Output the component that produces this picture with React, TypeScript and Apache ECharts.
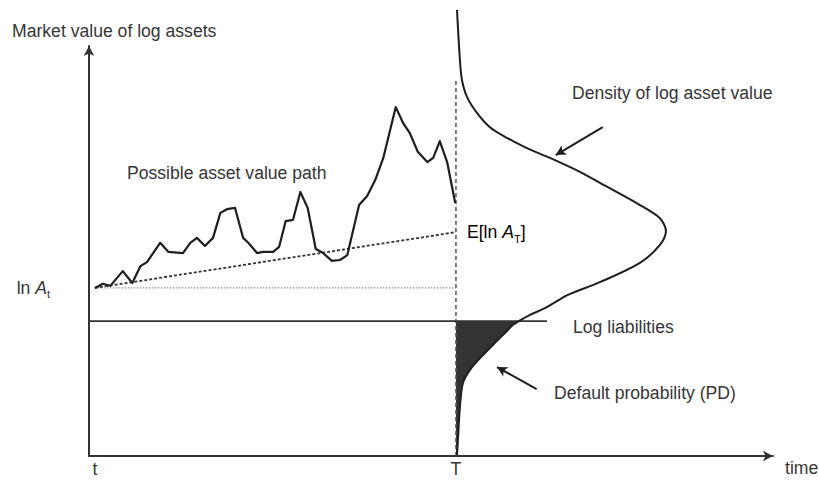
import React, { useEffect, useRef } from "react";
import * as echarts from "echarts";

// ---- scale / reference levels ----
const T = 50;
const X_MAX = 93.2;
const Y_MAX = 100;
const tStart = 0.8;
const lnAt = 41.0;
const expectedLnAT = 54.6;
const logLiabilities = 32.9;
const liabilitiesEnd = 62.4;
const dashedTop = 92.2;

// ---- possible asset value path ----
const pathX = [
  0.8, 1.9, 2.9, 4.6, 5.9, 7.0, 7.9, 9.7, 10.8, 12.8, 13.8, 14.7, 15.8, 16.9, 17.9,
  18.8, 19.9, 21.0, 21.7, 22.9, 23.7, 25.1, 25.9, 26.8, 27.8, 28.8, 29.8, 30.9, 31.9,
  33.1, 34.2, 35.2, 36.8, 37.9, 39.0, 40.1, 41.8, 42.8, 43.7, 44.8, 46.1, 46.9, 47.8,
  48.8, 49.9,
];
const pathY = [
  41.0, 42.0, 41.5, 45.1, 42.2, 46.3, 47.3, 52.0, 49.8, 49.5, 52.0, 53.2, 51.2, 53.2, 59.3,
  60.2, 60.5, 53.2, 52.0, 49.5, 49.8, 49.8, 51.0, 57.3, 57.6, 64.4, 60.5, 50.5, 49.5,
  47.6, 47.8, 49.0, 61.2, 63.4, 67.3, 72.7, 85.1, 81.2, 78.8, 74.2, 71.7, 72.7, 76.8,
  71.7, 61.7,
];

// ---- density of log asset value at T (level, horizontal extent) ----
const densityLevel = [
  108.8, 96.6, 91.7, 87.6, 83.7, 80.2, 77.6, 75.1, 72.7, 69.3, 66.6, 61.2, 58.0, 54.9,
  51.5, 47.1, 42.4, 39.3, 36.3, 34.4, 32.9, 32.0, 30.0, 27.6, 24.1, 21.0, 17.8, 12.0,
  3.9, 0.2,
];
const densityValue = [
  0.14, 0.54, 0.82, 1.5, 2.86, 4.63, 6.95, 9.67, 12.81, 16.89, 19.62, 25.07, 27.79, 28.61,
  27.79, 25.07, 19.62, 15.26, 12.4, 10.08, 8.58, 7.77, 6.68, 5.31, 3.41, 1.91, 0.95, 0.54,
  0.27, 0.14,
];

// ---- ticks ----
const xTickValues = [0.8, 50];
const xTickLabels = ["t", "T"];
const yTickValues = [41];
const yTickLabels = ["{n|ln }{i|A}{s|t}"];

// ---- annotation arrows (tail, tip) ----
const densityArrow = [
  [70.0, 80.2],
  [63.6, 73.4],
];
const pdArrow = [
  [61.0, 16.3],
  [55.6, 21.7],
];

const FONT = "'Liberation Sans', Arial, Helvetica, sans-serif";
const FS = 17.6;
const TEXT = "#363636";
const INK = "#1e1e1e";

export default function App() {
  const ref = useRef<HTMLDivElement>(null);

  useEffect(() => {
    document.body.style.margin = "0";
    if (!ref.current) return;
    const chart = echarts.init(ref.current, undefined, { renderer: "svg" });

    const pathData = pathX.map((x, i) => [x, pathY[i]]);
    const densityData = densityLevel.map((y, i) => [T + densityValue[i], y]);
    const pdPolygon: number[][] = [[T, logLiabilities]];
    densityLevel.forEach((y, i) => {
      if (y <= logLiabilities) pdPolygon.push([T + densityValue[i], y]);
    });
    pdPolygon.push([T, densityLevel[densityLevel.length - 1]]);

    const rich = {
      n: { fontSize: FS, fontFamily: FONT, color: TEXT, lineHeight: 24 },
      i: { fontSize: FS, fontFamily: FONT, color: TEXT, fontStyle: "italic", lineHeight: 24 },
      s: { fontSize: 11, fontFamily: FONT, color: TEXT, lineHeight: 10, verticalAlign: "bottom" },
    };

    const txt = (text: string, x: number, y: number) => ({
      type: "text",
      x,
      y,
      silent: true,
      style: { text, fontSize: FS, fontFamily: FONT, fill: TEXT, verticalAlign: "middle" },
    });

    chart.setOption({
      animation: false,
      grid: { left: 89, right: 46, top: 46, bottom: 24, containLabel: false, outerBoundsMode: "none" },
      xAxis: {
        type: "value",
        min: 0,
        max: X_MAX,
        splitLine: { show: false },
        axisTick: { show: false },
        axisLine: {
          show: true,
          onZero: false,
          symbol: ["none", "arrow"],
          symbolSize: [8, 10],
          lineStyle: { color: "#333", width: 2 },
        },
        axisLabel: {
          customValues: xTickValues,
          margin: 5,
          fontSize: FS,
          lineHeight: 16,
          fontFamily: FONT,
          color: TEXT,
          formatter: (v: number) => {
            let best = 0;
            xTickValues.forEach((tv, i) => {
              if (Math.abs(tv - v) < Math.abs(xTickValues[best] - v)) best = i;
            });
            return xTickLabels[best];
          },
        },
        name: "time",
        nameLocation: "end",
        nameGap: 12,
        nameTextStyle: { fontSize: FS, fontFamily: FONT, color: TEXT, verticalAlign: "top", align: "left", padding: [3, 0, 0, 0] },
      },
      yAxis: {
        type: "value",
        min: 0,
        max: Y_MAX,
        splitLine: { show: false },
        axisTick: { show: false },
        axisLine: {
          show: true,
          onZero: false,
          symbol: ["none", "arrow"],
          symbolSize: [8, 10],
          lineStyle: { color: "#333", width: 2 },
        },
        axisLabel: {
          customValues: yTickValues,
          margin: 39,
          formatter: (v: number) => {
            let best = 0;
            yTickValues.forEach((tv, i) => {
              if (Math.abs(tv - v) < Math.abs(yTickValues[best] - v)) best = i;
            });
            return yTickLabels[best];
          },
          rich,
        },
      },
      graphic: [
        txt("Market value of log assets", 12, 31),
        txt("Possible asset value path", 127, 173),
        txt("Density of log asset value", 572, 93),
        txt("Log liabilities", 573, 327),
        txt("Default probability (PD)", 554, 393),
        {
          type: "text",
          x: 467,
          y: 232,
          silent: true,
          style: { text: "{n|E[ln }{i|A}{s|T}{n|]}", rich, verticalAlign: "middle" },
        },
      ],
      series: [
        {
          type: "custom",
          silent: true,
          z: 1,
          data: [[T, 0]],
          renderItem: (_p: any, api: any) => ({
            type: "polygon",
            shape: { points: pdPolygon.map((p) => api.coord(p)) },
            style: { fill: "#333" },
          }),
        },
        {
          type: "line",
          silent: true,
          z: 2,
          symbol: "none",
          data: [
            [T, 0],
            [T, dashedTop],
          ],
          lineStyle: { color: "#555", width: 1.5, type: [4, 3] },
        },
        {
          type: "line",
          silent: true,
          z: 2,
          symbol: "none",
          data: [
            [tStart, lnAt],
            [T, lnAt],
          ],
          lineStyle: { color: "#777", width: 1, type: [1.5, 1.5] },
        },
        {
          type: "line",
          silent: true,
          z: 3,
          symbol: "none",
          data: [
            [tStart, lnAt],
            [T, expectedLnAT],
          ],
          lineStyle: { color: "#333", width: 1.8, type: [3, 2] },
        },
        {
          type: "line",
          silent: true,
          z: 3,
          symbol: "none",
          data: [
            [0, logLiabilities],
            [liabilitiesEnd, logLiabilities],
          ],
          lineStyle: { color: "#333", width: 1.8 },
          markLine: {
            silent: true,
            symbol: ["none", "arrow"],
            symbolSize: [8, 10],
            label: { show: false },
            lineStyle: { color: INK, width: 2, type: "solid" },
            data: [
              [{ coord: densityArrow[0] }, { coord: densityArrow[1] }],
              [{ coord: pdArrow[0] }, { coord: pdArrow[1] }],
            ],
          },
        },
        {
          type: "line",
          silent: true,
          z: 4,
          symbol: "none",
          data: pathData,
          lineStyle: { color: INK, width: 2.2, join: "round" },
        },
        {
          type: "line",
          silent: true,
          z: 4,
          symbol: "none",
          clip: false,
          smooth: 0.3,
          data: densityData,
          lineStyle: { color: INK, width: 2 },
        },
      ],
    });

    return () => chart.dispose();
  }, []);

  return <div ref={ref} style={{ width: 819, height: 480 }} />;
}
